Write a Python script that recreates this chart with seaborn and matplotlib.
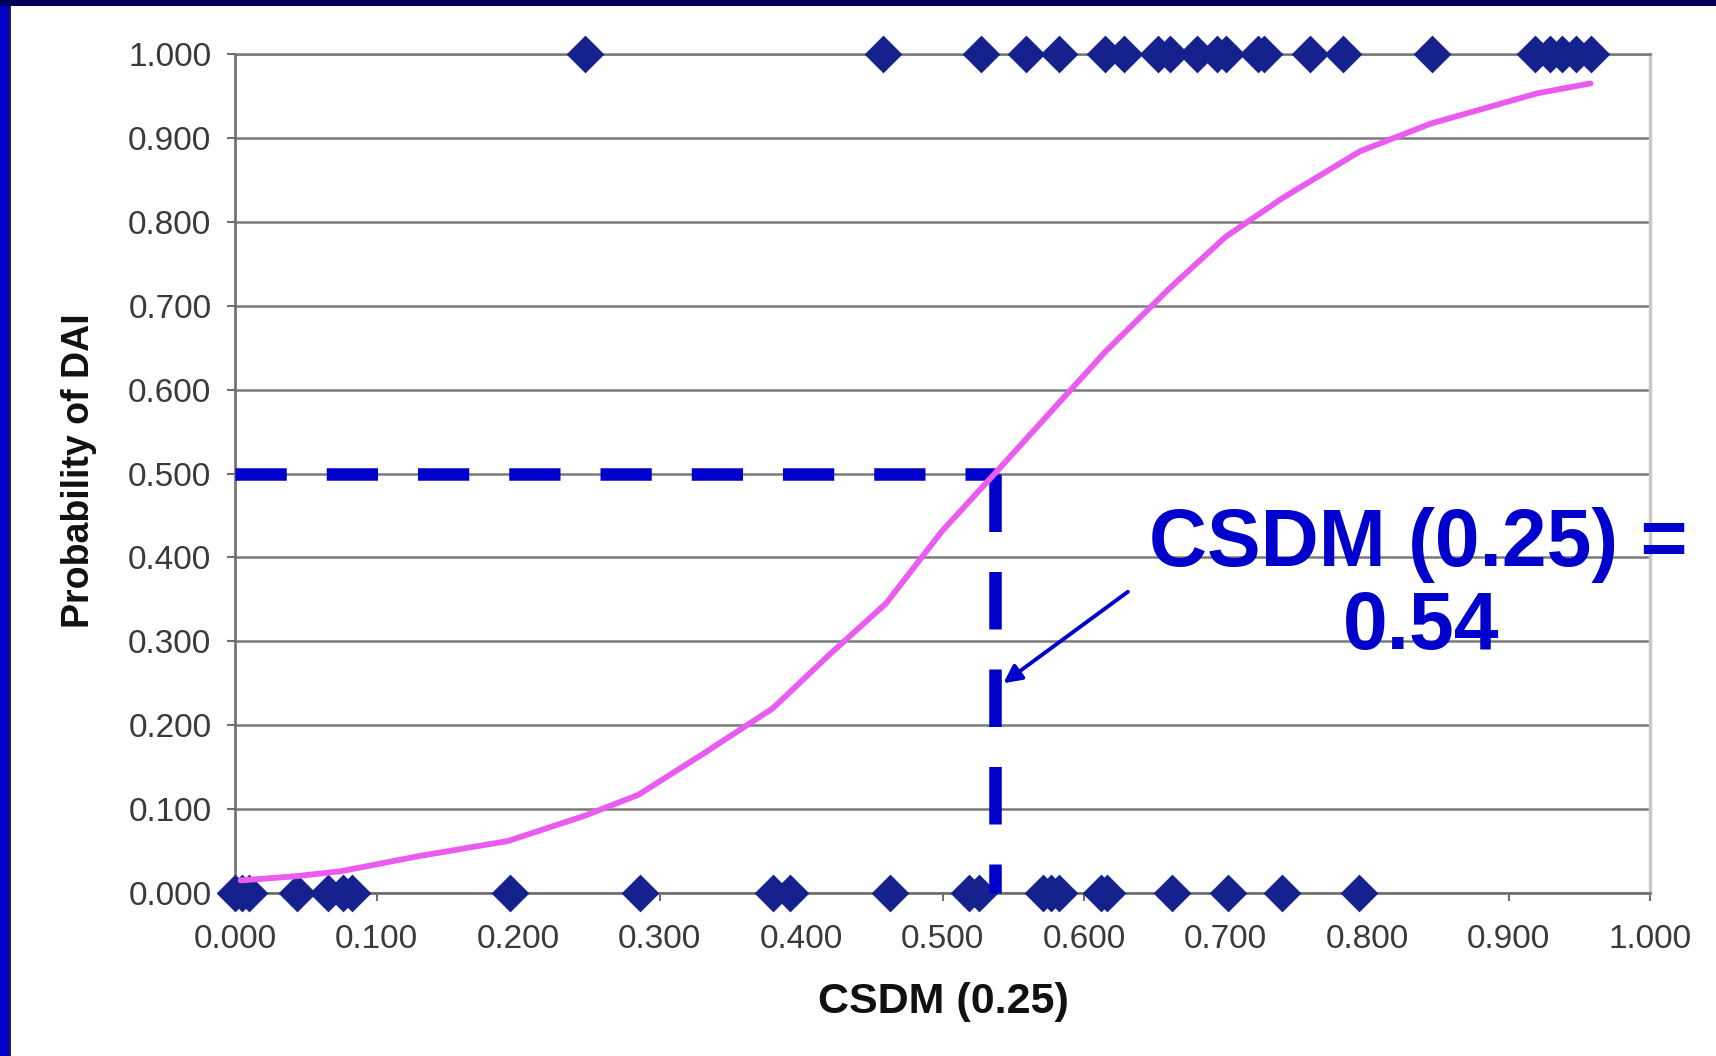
import numpy as np
import pandas as pd
import matplotlib.pyplot as plt
import matplotlib.ticker as mticker
from matplotlib.patches import Rectangle
import seaborn as sns

sns.set_theme(style="white")
plt.rcParams['font.family'] = ['Liberation Sans', 'DejaVu Sans']

# observed cases: DAI = 1 (top row) and DAI = 0 (bottom row)
csdm_dai = [0.247, 0.458, 0.527, 0.559, 0.582, 0.615, 0.628, 0.652, 0.661, 0.680,
            0.694, 0.700, 0.723, 0.727, 0.760, 0.783, 0.846, 0.919, 0.929, 0.938,
            0.948, 0.958]
csdm_nodai = [0.000, 0.005, 0.010, 0.044, 0.066, 0.076, 0.083, 0.194, 0.286, 0.380,
              0.392, 0.463, 0.519, 0.526, 0.571, 0.577, 0.582, 0.612, 0.616, 0.662,
              0.702, 0.740, 0.794]

# fitted probability curve
fit_x = [0.004, 0.043, 0.075, 0.130, 0.193, 0.247, 0.285, 0.330, 0.380, 0.420,
         0.460, 0.500, 0.537, 0.580, 0.615, 0.660, 0.700, 0.740, 0.795, 0.845,
         0.920, 0.958]
fit_p = [0.015, 0.020, 0.026, 0.044, 0.062, 0.092, 0.117, 0.165, 0.220, 0.284,
         0.345, 0.432, 0.500, 0.580, 0.645, 0.720, 0.782, 0.828, 0.884, 0.917,
         0.953, 0.965]

threshold = 0.537   # CSDM at p = 0.5
label_value = "0.54"

ticks = [0.0, 0.1, 0.2, 0.3, 0.4, 0.5, 0.6, 0.7, 0.8, 0.9, 1.0]

obs = pd.DataFrame({
    "csdm": csdm_dai + csdm_nodai,
    "dai": [1.0] * len(csdm_dai) + [0.0] * len(csdm_nodai),
})
fit = pd.DataFrame({"csdm": fit_x, "prob": fit_p})

fig = plt.figure(figsize=(17.16, 10.56), dpi=100)
fig.patch.set_facecolor("white")
ax = fig.add_axes([235 / 1716, 1 - 893 / 1056, 1415 / 1716, 839 / 1056])

# slide frame
fig.patches.append(Rectangle((0, 0), 9 / 1716, 1, transform=fig.transFigure,
                             facecolor="#0000C8", edgecolor="none", zorder=0))
fig.patches.append(Rectangle((9 / 1716, 0), 2 / 1716, 1, transform=fig.transFigure,
                             facecolor="#202040", edgecolor="none", zorder=0))
fig.patches.append(Rectangle((0, 1 - 6 / 1056), 1, 6 / 1056, transform=fig.transFigure,
                             facecolor="#000058", edgecolor="none", zorder=0))

ax.set_xlim(0, 1)
ax.set_ylim(0, 1)
ax.set_xticks(ticks)
ax.set_yticks(ticks)
ax.xaxis.set_major_formatter(mticker.FormatStrFormatter("%.3f"))
ax.yaxis.set_major_formatter(mticker.FormatStrFormatter("%.3f"))
ax.yaxis.grid(True, color="#7a7a7a", lw=1.8, zorder=0)
ax.xaxis.grid(False)
ax.set_axisbelow(True)

for side in ["left", "bottom"]:
    ax.spines[side].set_color("#6e6e6e")
    ax.spines[side].set_linewidth(1.9)
ax.spines["top"].set_color("#7a7a7a")
ax.spines["top"].set_linewidth(1.8)
ax.spines["right"].set_color("#c8c8c8")
ax.spines["right"].set_linewidth(2.5)

ax.tick_params(axis="both", which="major", labelsize=24, labelcolor="#3a3a3a",
               color="#6e6e6e", length=6, width=1.5, direction="out")
ax.tick_params(axis="y", pad=11, left=True)
ax.tick_params(axis="x", pad=16, bottom=True)

sns.scatterplot(data=obs, x="csdm", y="dai", marker="D", s=370, color="#15228E",
                linewidth=0, ax=ax, clip_on=False, zorder=3, legend=False)

ax.plot([0, threshold], [0.5, 0.5], color="#0000CC", lw=9,
        linestyle=(0, (4.1, 3.2)), dash_capstyle="butt", zorder=4, clip_on=False)
ax.plot([threshold, threshold], [0.5, 0.0], color="#0000CC", lw=9,
        linestyle=(0, (4.6, 3.2)), dash_capstyle="butt", zorder=4, clip_on=False)

sns.lineplot(data=fit, x="csdm", y="prob", color="#EA5CF0", linewidth=4.2, ax=ax,
             zorder=5, sort=False)

ax.annotate("", xy=(0.543, 0.250), xytext=(0.631, 0.359),
            arrowprops=dict(arrowstyle="-|>,head_length=0.9,head_width=0.45",
                            color="#0000CC", lw=2.8, shrinkA=0, shrinkB=0),
            zorder=6)

ax.text(0.836, 0.390, "CSDM (0.25) =", color="#0000CC", fontsize=58,
        fontweight="bold", ha="center", va="baseline", clip_on=False, zorder=7)
ax.text(0.838, 0.291, label_value, color="#0000CC", fontsize=58,
        fontweight="bold", ha="center", va="baseline", clip_on=False, zorder=7)

ax.set_xlabel("")
ax.set_ylabel("")
fig.text(943 / 1716, 1 - 1013 / 1056, "CSDM (0.25)", fontsize=31, fontweight="bold",
         color="#111111", ha="center", va="baseline")
fig.text(79 / 1716, 1 - 471 / 1056, "Probability of DAI", fontsize=27,
         fontweight="bold", color="#111111", rotation=90, ha="center", va="center")

fig.savefig("out.png", dpi=100, facecolor="white")
